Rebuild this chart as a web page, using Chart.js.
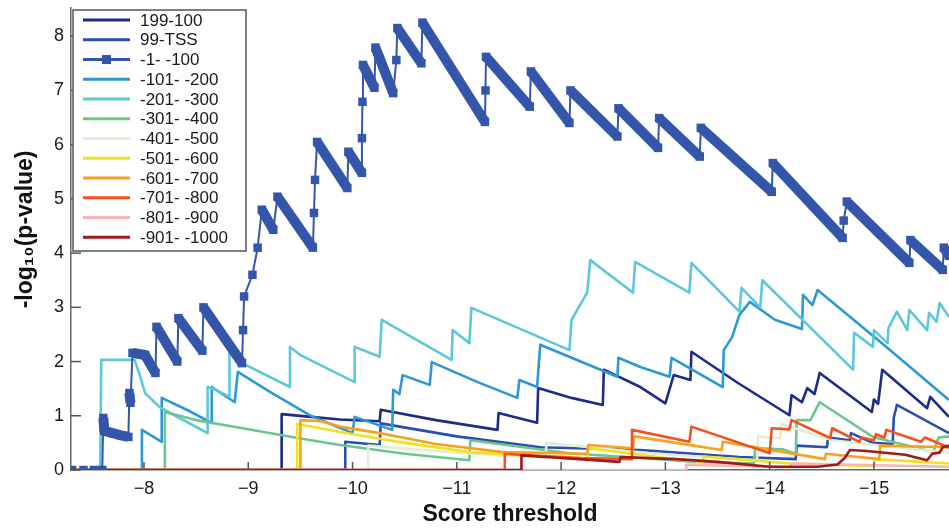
<!DOCTYPE html>
<html>
<head>
<meta charset="utf-8">
<script src="https://cdn.jsdelivr.net/npm/chart.js@4.4.1/dist/chart.umd.min.js"></script>
<style>
  html, body { margin: 0; padding: 0; background: #ffffff; overflow: hidden; }
  #wrap { width: 949px; height: 528px; position: relative; }
</style>
</head>
<body>
<div id="wrap"><canvas id="c" width="949" height="528"></canvas></div>
<script>
// ---------- data ----------
const xTicks = [-8, -9, -10, -11, -12, -13, -14, -15];
const yTicks = [0, 1, 2, 3, 4, 5, 6, 7, 8];
const xRange = [-15.72, -7.30];
const yRange = [0, 8.52];

const seriesLabels = ['199-100', '99-TSS', '-1- -100', '-101- -200', '-201- -300', '-301- -400',
  '-401- -500', '-501- -600', '-601- -700', '-701- -800', '-801- -900', '-901- -1000'];
const seriesColors = ['#1c2b8c', '#2b4eb0', '#3456aa', '#2c98d6', '#5ec8d8', '#6cc690',
  '#e2eed0', '#efe21e', '#f7a11c', '#f3521f', '#f8b4b6', '#a0191c'];

const s199_100 = [[-7.30,0],[-9.32,0],[-9.32,1.03],[-9.60,0.98],[-9.88,0.93],[-10.26,0.90],[-10.27,1.11],
  [-10.8,0.92],[-11.39,0.74],[-11.40,1.05],[-11.77,0.87],[-11.78,1.51],[-12.10,1.33],[-12.40,1.2],
  [-12.41,1.85],[-12.76,1.53],[-13.00,1.23],[-13.08,1.75],[-13.24,1.66],[-13.25,2.18],[-13.7,1.6],
  [-14.19,1.01],[-14.21,1.38],[-14.31,1.25],[-14.36,1.51],[-14.43,1.40],[-14.48,1.79],[-14.98,1.07],
  [-15.00,1.3],[-15.04,1.22],[-15.08,1.85],[-15.51,1.14],[-15.54,1.35],[-15.72,0.98]];

const s99_TSS = [[-7.30,0],[-9.93,0],[-9.93,0.52],[-10.26,0.46],[-10.27,0.86],[-11.0,0.62],[-11.8,0.42],
  [-12.76,0.37],[-13.71,0.24],[-14.25,0.2],[-14.26,0.45],[-14.55,0.42],[-14.56,0.6],[-14.77,0.55],
  [-14.78,0.68],[-14.99,0.5],[-15.18,0.48],[-15.19,0.96],[-15.22,1.2],[-15.72,0.68]];

const s1_100 = [[-7.31,0],[-7.42,0],[-7.52,0],[-7.60,0],[-7.61,0.96],[-7.62,0.72],[-7.70,0.68],[-7.78,0.64],
  [-7.85,0.61],[-7.86,1.42],[-7.87,1.24],[-7.89,2.16],[-8.01,2.12],[-8.11,1.79],[-8.12,2.64],[-8.32,2.0],
  [-8.33,2.8],[-8.56,2.2],[-8.57,3.0],[-8.94,1.97],[-8.95,2.58],[-8.96,3.2],[-9.04,3.6],[-9.09,4.1],
  [-9.13,4.8],[-9.24,4.43],[-9.28,5.04],[-9.62,4.1],[-9.63,4.74],[-9.64,5.35],[-9.66,6.05],[-9.95,5.2],
  [-9.96,5.87],[-10.09,5.48],[-10.09,6.12],[-10.095,6.79],[-10.10,7.47],[-10.21,7.05],[-10.22,7.79],
  [-10.39,6.95],[-10.42,7.56],[-10.43,8.15],[-10.66,7.5],[-10.67,8.25],[-11.27,6.42],[-11.275,7.0],
  [-11.28,7.62],[-11.70,6.7],[-11.71,7.35],[-12.08,6.4],[-12.09,7.0],[-12.54,6.15],[-12.55,6.67],
  [-12.93,5.94],[-12.94,6.49],[-13.33,5.78],[-13.34,6.31],[-14.02,5.13],[-14.03,5.66],[-14.70,4.28],
  [-14.71,4.6],[-14.74,4.95],[-15.34,3.82],[-15.35,4.24],[-15.66,3.69],[-15.67,4.1],[-15.72,3.95]];

const s101_200 = [[-7.30,0],[-7.98,0],[-7.98,0.74],[-8.17,0.52],[-8.17,1.33],[-8.4,1.12],[-8.65,0.87],
  [-8.65,1.53],[-8.87,1.25],[-8.90,1.81],[-9.2,1.45],[-9.6,1.0],[-10.0,0.68],[-10.02,0.98],[-10.38,0.74],
  [-10.39,1.48],[-10.45,1.40],[-10.48,1.75],[-10.74,1.57],[-10.76,1.99],[-11.2,1.62],[-11.58,1.33],
  [-11.60,1.66],[-11.77,1.53],[-11.80,2.31],[-12.54,1.72],[-12.55,2.07],[-12.76,1.9],[-13.04,1.72],
  [-13.06,2.07],[-13.55,1.53],[-13.56,2.21],[-13.64,2.45],[-13.71,2.86],[-13.81,3.1],[-14.05,2.77],
  [-14.31,2.6],[-14.32,3.23],[-14.41,3.04],[-14.46,3.32],[-15.1,2.3],[-15.72,1.29]];

const s201_300 = [[-7.30,0],[-7.58,0],[-7.59,2.03],[-7.91,2.03],[-7.96,1.75],[-8.01,1.42],[-8.15,1.16],
  [-8.35,0.95],[-8.61,0.68],[-8.61,1.53],[-8.70,1.47],[-8.82,1.35],[-8.82,2.18],[-8.94,1.97],[-9.40,1.53],
  [-9.40,2.27],[-9.50,2.12],[-10.02,1.62],[-10.02,2.27],[-10.26,2.09],[-10.28,2.77],[-10.95,2.03],
  [-10.96,2.58],[-11.12,2.34],[-11.14,2.99],[-12.08,2.21],[-12.10,2.77],[-12.25,3.27],[-12.28,3.87],
  [-12.69,3.27],[-12.71,3.84],[-13.23,3.27],[-13.25,3.82],[-13.71,2.92],[-13.73,3.36],[-13.91,3.0],
  [-13.93,3.5],[-14.80,1.85],[-14.81,2.53],[-14.99,2.27],[-15.00,2.58],[-15.13,2.34],[-15.14,2.62],
  [-15.22,2.92],[-15.32,2.58],[-15.34,2.95],[-15.51,2.58],[-15.53,2.9],[-15.60,2.73],[-15.63,3.08],
  [-15.72,2.82]];

const s301_400 = [[-7.30,0],[-8.20,0],[-8.20,1.07],[-8.5,0.92],[-9.0,0.75],[-9.5,0.58],[-9.88,0.46],
  [-10.5,0.3],[-11.12,0.18],[-11.13,0.55],[-12.08,0.31],[-12.76,0.22],[-13.3,0.15],[-13.85,0.12],
  [-13.86,0.4],[-14.13,0.38],[-14.25,0.3],[-14.26,0.92],[-14.39,0.92],[-14.48,1.25],[-14.99,0.61],
  [-15.57,0.33],[-15.62,0.6],[-15.72,0.62]];

const s401_500 = [[-7.30,0],[-10.15,0],[-10.15,0.45],[-11.0,0.32],[-11.85,0.22],[-11.86,0.5],[-12.9,0.3],
  [-13.88,0.18],[-13.89,0.62],[-14.10,0.58],[-14.11,0.85],[-14.6,0.55],[-15.3,0.4],[-15.72,0.32]];

const s501_600 = [[-7.30,0],[-9.47,0],[-9.47,0.85],[-9.88,0.7],[-10.5,0.5],[-11.13,0.33],[-11.92,0.24],
  [-12.25,0.2],[-12.26,0.4],[-13.0,0.22],[-13.36,0.15],[-13.37,0.25],[-14.2,0.12],[-14.9,0.08],
  [-15.0,0.08],[-15.01,0.2],[-15.72,0.12]];

const s601_700 = [[-7.30,0],[-9.50,0],[-9.50,0.92],[-9.7,0.9],[-9.88,0.8],[-10.26,0.68],[-10.8,0.48],
  [-11.44,0.33],[-12.25,0.3],[-12.26,0.46],[-12.69,0.4],[-12.70,0.62],[-13.54,0.37],[-13.55,0.52],
  [-14.53,0.2],[-14.54,0.3],[-15.05,0.2],[-15.06,0.45],[-15.72,0.42]];

const s701_800 = [[-7.30,0],[-11.46,0],[-11.46,0.3],[-11.60,0.28],[-12.2,0.22],[-12.68,0.2],[-12.68,0.74],
  [-13.23,0.52],[-13.25,0.8],[-14.00,0.31],[-14.02,0.77],[-14.19,0.75],[-14.21,0.92],[-14.58,0.59],
  [-14.60,0.77],[-14.86,0.52],[-14.88,0.6],[-15.0,0.55],[-15.02,0.66],[-15.10,0.6],[-15.12,0.74],
  [-15.45,0.52],[-15.49,0.6],[-15.72,0.41]];

const s801_900 = [[-7.30,0],[-13.2,0],[-13.2,0.1],[-14.2,0.05],[-14.21,0.12],[-15.72,0.06]];

const s901_1000 = [[-7.30,0],[-11.62,0],[-11.62,0.27],[-12.0,0.22],[-12.56,0.15],[-12.57,0.24],[-13.1,0.2],
  [-13.5,0.15],[-14.0,0.06],[-14.46,0.06],[-14.65,0.1],[-14.72,0.22],[-14.77,0.37],[-14.93,0.35],
  [-15.3,0.28],[-15.51,0.18],[-15.56,0.3],[-15.63,0.32],[-15.66,0.42],[-15.72,0.45]];

const seriesData = [s199_100, s99_TSS, s1_100, s101_200, s201_300, s301_400,
  s401_500, s501_600, s601_700, s701_800, s801_900, s901_1000];
const markerSeries = 2;

// ---------- chart ----------
const FONT = '"Liberation Sans", Arial, Helvetica, sans-serif';
const n = seriesData.length;

const datasets = seriesData.map((arr, i) => {
  const ds = {
    label: seriesLabels[i],
    data: arr.map(p => ({ x: p[0], y: p[1] })),
    borderColor: seriesColors[i],
    backgroundColor: seriesColors[i],
    borderWidth: 2.6,
    pointRadius: 0,
    tension: 0,
    fill: false,
    order: n - i,
    borderJoinStyle: 'round'
  };
  if (i === markerSeries) {
    ds.pointRadius = 6;
    ds.pointStyle = 'rect';
    ds.pointBorderWidth = 0;
    ds.pointBackgroundColor = seriesColors[i];
    ds.order = 0;
    ds.segment = {
      borderWidth: ctx => (ctx.p1.parsed.y <= ctx.p0.parsed.y && ctx.p0.parsed.y > 0.01) ? 10 : 2
    };
  }
  return ds;
});

const inwardTicks = {
  id: 'inwardTicks',
  afterDatasetsDraw(chart) {
    const { ctx, chartArea, scales } = chart;
    ctx.save();
    ctx.strokeStyle = '#555';
    ctx.lineWidth = 1.5;
    xTicks.forEach(v => {
      const px = scales.x.getPixelForValue(v);
      ctx.beginPath(); ctx.moveTo(px, chartArea.bottom); ctx.lineTo(px, chartArea.bottom - 8); ctx.stroke();
    });
    yTicks.forEach(v => {
      const py = scales.y.getPixelForValue(v);
      ctx.beginPath(); ctx.moveTo(chartArea.left, py); ctx.lineTo(chartArea.left + 10, py); ctx.stroke();
    });
    ctx.restore();
  }
};

const boxLegend = {
  id: 'boxLegend',
  afterDraw(chart) {
    const { ctx, chartArea } = chart;
    const x0 = chartArea.left + 2, y0 = chartArea.top + 2, w = 173, h = 241;
    ctx.save();
    ctx.fillStyle = '#ffffff';
    ctx.fillRect(x0, y0, w, h);
    ctx.strokeStyle = '#555';
    ctx.lineWidth = 1.5;
    ctx.strokeRect(x0, y0, w, h);
    ctx.font = '17px ' + FONT;
    ctx.textBaseline = 'middle';
    ctx.textAlign = 'left';
    chart.data.datasets.forEach((ds, i) => {
      const yy = y0 + 10 + i * 19.75;
      ctx.strokeStyle = ds.borderColor;
      ctx.lineWidth = 3;
      ctx.beginPath(); ctx.moveTo(x0 + 10, yy); ctx.lineTo(x0 + 57, yy); ctx.stroke();
      if (i === markerSeries) {
        ctx.fillStyle = ds.borderColor;
        ctx.fillRect(x0 + 29, yy - 4.5, 9, 9);
      }
      ctx.fillStyle = '#1a1a1a';
      ctx.fillText(ds.label, x0 + 67, yy + 1);
    });
    ctx.restore();
  }
};

new Chart(document.getElementById('c'), {
  type: 'line',
  data: { datasets },
  options: {
    responsive: false,
    animation: false,
    devicePixelRatio: 1,
    layout: { autoPadding: false, padding: { top: 8, right: 0, left: 0, bottom: 0 } },
    plugins: { legend: { display: false }, tooltip: { enabled: false } },
    scales: {
      x: {
        type: 'linear',
        reverse: true,
        min: xRange[0],
        max: xRange[1],
        afterBuildTicks: s => { s.ticks = xTicks.map(v => ({ value: v })); },
        afterFit: s => { s.height = 58; s.paddingLeft = 0; s.paddingRight = 0; },
        ticks: {
          callback: v => String(v).replace('-', '\u2212'),
          font: { family: FONT, size: 18 },
          color: '#1a1a1a',
          padding: 8,
          maxRotation: 0,
          autoSkip: false
        },
        grid: { drawOnChartArea: false, drawTicks: false },
        border: { display: true, color: '#666', width: 1.5 },
        title: {
          display: true,
          text: 'Score threshold',
          font: { family: FONT, size: 23, weight: 'bold' },
          color: '#111',
          padding: { top: 0, bottom: 0 }
        }
      },
      y: {
        type: 'linear',
        min: yRange[0],
        max: yRange[1],
        afterBuildTicks: s => { s.ticks = yTicks.map(v => ({ value: v })); },
        afterFit: s => { s.width = 71; s.paddingTop = 0; s.paddingBottom = 0; },
        ticks: {
          callback: v => String(v),
          font: { family: FONT, size: 18 },
          color: '#1a1a1a',
          padding: 7,
          autoSkip: false
        },
        grid: { drawOnChartArea: false, drawTicks: false },
        border: { display: true, color: '#666', width: 1.5 },
        title: {
          display: true,
          text: '   -log\u2081\u2080(p-value)',
          font: { family: FONT, size: 23, weight: 'bold' },
          color: '#111',
          padding: { top: 12, bottom: 0 }
        }
      }
    }
  },
  plugins: [inwardTicks, boxLegend]
});
</script>
</body>
</html>
